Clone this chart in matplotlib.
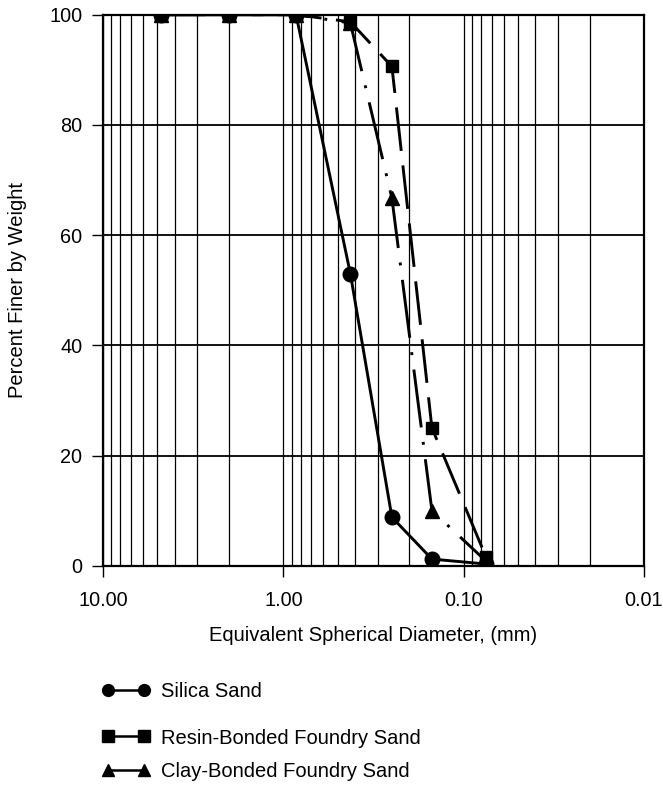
import matplotlib
matplotlib.use("Agg")
import matplotlib.pyplot as plt
from matplotlib.lines import Line2D
from matplotlib.ticker import FixedLocator, FixedFormatter, LogLocator, NullFormatter

plt.rcParams['font.family'] = ['Liberation Sans', 'DejaVu Sans']

# Sieve sizes (mm)
diameter = [4.75, 2.0, 0.85, 0.425, 0.25, 0.15, 0.075]
silica = [100, 100, 100, 53, 8.8, 1.2, 0.3]
resin = [100, 100, 100, 98.7, 90.6, 25, 1.5]
clay = [100, 100, 100, 98.5, 66.7, 10, 0.8]

series_names = ["Silica Sand", "Resin-Bonded Foundry Sand", "Clay-Bonded Foundry Sand"]
x_ticks = [10, 1, 0.1, 0.01]
x_tick_labels = ["10.00", "1.00", "0.10", "0.01"]
y_ticks = [0, 20, 40, 60, 80, 100]

W, H = 663, 788
fig = plt.figure(figsize=(W / 100, H / 100), dpi=100)
ax = fig.add_axes([103 / W, 1 - 565.7 / H, (644 - 103) / W, (565.7 - 14.7) / H])

ax.set_xscale('log')
ax.set_xlim(10, 0.01)
ax.set_ylim(0, 100)

# grid
ax.xaxis.set_major_locator(FixedLocator(x_ticks))
ax.xaxis.set_major_formatter(FixedFormatter(x_tick_labels))
ax.xaxis.set_minor_locator(LogLocator(base=10, subs=range(2, 10)))
ax.xaxis.set_minor_formatter(NullFormatter())
ax.set_yticks(y_ticks)
ax.grid(True, which='major', axis='y', color='black', lw=1.3)
ax.grid(True, which='both', axis='x', color='black', lw=0.9)
ax.set_axisbelow(True)

for s in ax.spines.values():
    s.set_linewidth(1.6)
    s.set_color('black')

fs = 14.5
ax.tick_params(axis='y', which='major', direction='out', length=8, width=1,
               pad=7, labelsize=14.3)
ax.tick_params(axis='x', which='major', direction='out', length=8, width=1,
               pad=10, labelsize=14.3)
ax.tick_params(axis='x', which='minor', length=0)

lw = 2.1
ax.plot(diameter, resin, color='black', lw=lw, linestyle=(0, (15, 5)),
        marker='s', markersize=8.5, zorder=3)
ax.plot(diameter, clay, color='black', lw=lw, linestyle=(0, (20, 5, 1, 5)),
        marker='^', markersize=9.5, zorder=3)
ax.plot(diameter, silica, color='black', lw=lw, linestyle='-',
        marker='o', markersize=10.5, zorder=4)

ax.set_xlabel("Equivalent Spherical Diameter, (mm)", fontsize=fs, labelpad=12)
ax.set_ylabel("Percent Finer by Weight", fontsize=fs, labelpad=16)

# legend (one entry per legend to match spacing)
markers = ['o', 's', '^']
msizes = [8.5, 8, 9]
ypos = [691.7, 738, 771.7]
for name, m, ms, yp in zip(series_names, markers, msizes, ypos):
    h = Line2D([0], [0], color='black', lw=1.8, marker=m, markersize=ms)
    fig.legend([h], [name], loc='center left',
               bbox_to_anchor=(102 / W, 1 - yp / H),
               frameon=False, numpoints=2, handlelength=2.4,
               handletextpad=0.55, fontsize=fs, borderpad=0,
               borderaxespad=0)

fig.savefig("out.png", dpi=100)
